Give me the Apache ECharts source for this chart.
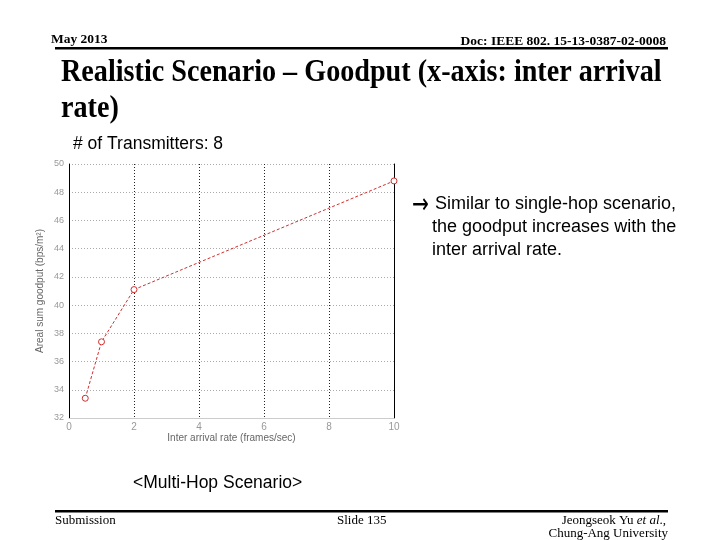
<!DOCTYPE html>
<html>
<head>
<meta charset="utf-8">
<script src="https://cdn.jsdelivr.net/npm/echarts@6/dist/echarts.min.js"></script>
<style>html,body{margin:0;padding:0;background:#fff;}#c{width:720px;height:540px;}</style>
</head>
<body>
<div id="c"></div>
<script>
var xValues = [0.5, 1, 2, 10];
var yValues = [33.4, 37.4, 41.1, 48.8];
var xTicks = [0, 2, 4, 6, 8, 10];
var yTicks = [32, 34, 36, 38, 40, 42, 44, 46, 48, 50];
var seriesData = xValues.map(function (x, i) { return [x, yValues[i]]; });

var chart = echarts.init(document.getElementById('c'), null, {renderer: 'canvas'});
var serif = '"Liberation Serif", "Times New Roman", serif';
var sans = '"Liberation Sans", Arial, sans-serif';
chart.setOption({
  animation: false,
  backgroundColor: '#fff',
  grid: {left: 69, right: 326, top: 164, bottom: 122, containLabel: false},
  xAxis: {
    type: 'value', min: xTicks[0], max: xTicks[xTicks.length - 1], interval: 2,
    name: 'Inter arrival rate (frames/sec)', nameLocation: 'middle', nameGap: 14,
    nameTextStyle: {color: '#666', fontSize: 10, fontFamily: sans},
    axisLine: {show: true, lineStyle: {color: '#ccc', width: 1}},
    axisTick: {show: false},
    axisLabel: {color: '#999', fontSize: 10, margin: 4, fontFamily: sans},
    splitLine: {show: true, lineStyle: {color: '#222', type: [1, 2], width: 1}}
  },
  yAxis: [{
    type: 'value', min: yTicks[0], max: yTicks[yTicks.length - 1], interval: 2,
    name: 'Areal sum goodput (bps/m²)', nameLocation: 'middle', nameGap: 24,
    nameTextStyle: {color: '#666', fontSize: 10, fontFamily: sans},
    axisLine: {show: true, lineStyle: {color: '#000', width: 1}},
    axisTick: {show: false},
    axisLabel: {color: '#999', fontSize: 9, margin: 5, fontFamily: sans},
    splitLine: {show: true, lineStyle: {color: '#aaa', type: [1, 2], width: 1}}
  }, {
    type: 'value', min: yTicks[0], max: yTicks[yTicks.length - 1], interval: 2, position: 'right',
    axisLine: {show: true, lineStyle: {color: '#000', width: 1}},
    axisTick: {show: false}, axisLabel: {show: false}, splitLine: {show: false}
  }],
  series: [{
    type: 'line', data: seriesData,
    lineStyle: {color: '#d03030', width: 1, type: [3, 2]},
    itemStyle: {color: '#fff', borderColor: '#d03030', borderWidth: 1},
    symbol: 'circle', symbolSize: 6, showSymbol: true
  }],
  graphic: [
    {type: 'text', left: 51, top: 33, style: {text: 'May 2013', font: 'bold 13.5px ' + serif, fill: '#000'}},
    {type: 'text', right: 54, top: 35, style: {text: 'Doc: IEEE 802. 15-13-0387-02-0008', font: 'bold 13.5px ' + serif, fill: '#000'}},
    {type: 'rect', shape: {x: 55, y: 47, width: 613, height: 2.5}, style: {fill: '#000'}},
    {type: 'text', x: 61, y: 57, scaleX: 0.88, style: {text: 'Realistic Scenario – Goodput (x-axis: inter arrival', font: 'bold 32px ' + serif, fill: '#000'}},
    {type: 'text', x: 61, y: 93, scaleX: 0.88, style: {text: 'rate)', font: 'bold 32px ' + serif, fill: '#000'}},
    {type: 'text', left: 73, top: 135, style: {text: '# of Transmitters: 8', font: '17.5px ' + sans, fill: '#000'}},
    {type: 'text', x: 412, y: 192, scaleX: 0.72, style: {text: '→', font: '28px "DejaVu Sans", sans-serif', fill: '#000'}},
    {type: 'text', left: 435, top: 195, style: {text: 'Similar to single-hop scenario,', font: '18px ' + sans, fill: '#000'}},
    {type: 'text', left: 432, top: 218, style: {text: 'the goodput increases with the', font: '18px ' + sans, fill: '#000'}},
    {type: 'text', left: 432, top: 241, style: {text: 'inter arrival rate.', font: '18px ' + sans, fill: '#000'}},
    {type: 'text', left: 133, top: 474, style: {text: '<Multi-Hop Scenario>', font: '17.5px ' + sans, fill: '#000'}},
    {type: 'rect', shape: {x: 55, y: 510, width: 613, height: 2.5}, style: {fill: '#000'}},
    {type: 'text', left: 55, top: 514, style: {text: 'Submission', font: '13px ' + serif, fill: '#000'}},
    {type: 'text', left: 337, top: 514, style: {text: 'Slide 135', font: '13px ' + serif, fill: '#000'}},
    {type: 'text', right: 54, top: 514, style: {rich: {a: {font: '13px ' + serif, fill: '#000'}, b: {font: 'italic 13px ' + serif, fill: '#000'}}, text: '{a|Jeongseok Yu }{b|et al}{a|.,}'}},
    {type: 'text', right: 52, top: 527, style: {text: 'Chung-Ang University', font: '13px ' + serif, fill: '#000'}}
  ]
});
</script>
</body>
</html>
